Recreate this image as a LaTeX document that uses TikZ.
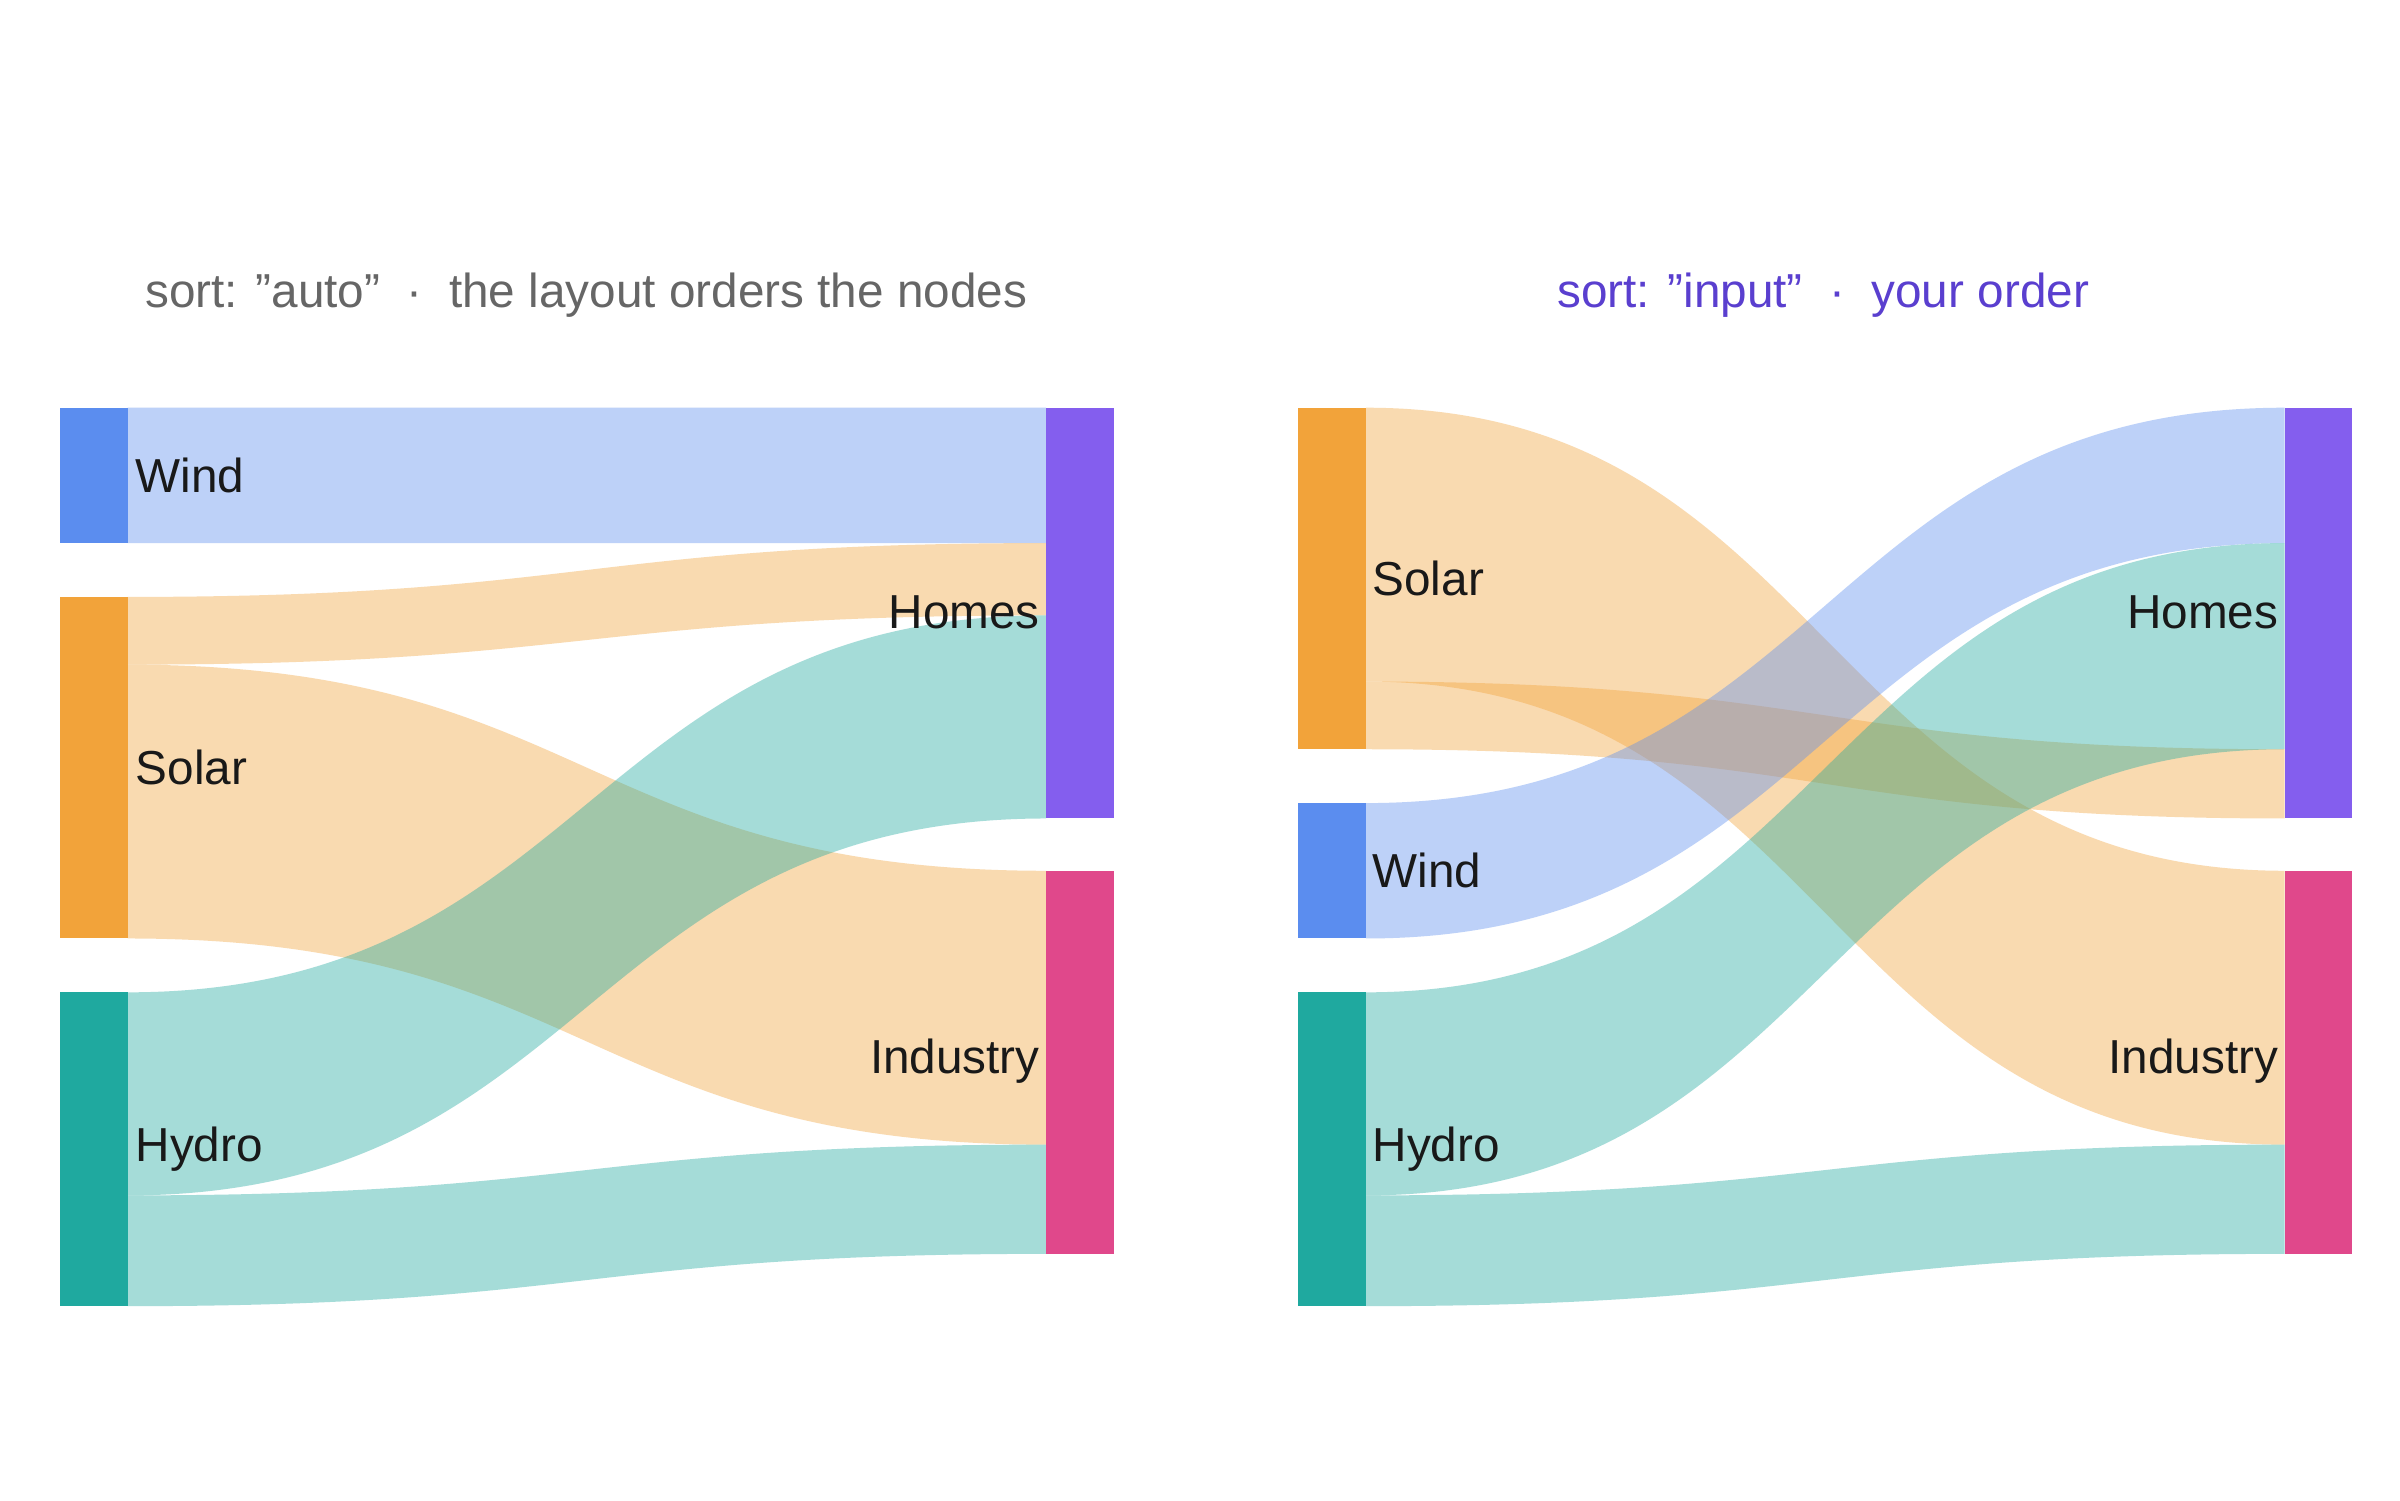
\documentclass[tikz,border=0pt]{standalone}
\usepackage{fontspec}
\setmainfont{Liberation Sans}
\begin{document}
\definecolor{wind}{HTML}{5B8DEF}
\definecolor{solar}{HTML}{F2A33A}
\definecolor{hydro}{HTML}{1FA99F}
\definecolor{homes}{HTML}{845EEE}
\definecolor{industry}{HTML}{E0488B}
\definecolor{tgray}{HTML}{666666}
\definecolor{tpurple}{HTML}{5A3FCF}
\newcommand{\myband}[7]{%
 \fill[#7,opacity=0.4] (#1,#2) .. controls ({(#1+#4)/2},#2) and ({(#1+#4)/2},#5) .. (#4,#5)
  -- (#4,#6) .. controls ({(#1+#4)/2},#6) and ({(#1+#4)/2},#3) .. (#1,#3) -- cycle;}
\begin{tikzpicture}[x=1pt,y=-1pt,
  nd/.style={draw=none,inner sep=0pt,minimum width=44pt},
  lab/.style={font=\fontsize{31}{37}\selectfont,text=black!90,inner sep=0pt},
  ttl/.style={font=\fontsize{31}{37}\selectfont,inner sep=0pt}]
\fill[white] (0,0) rectangle (1560,975);
\node[ttl,text=tgray] (t1) at (381,192) {sort: "auto"\ \ ·\ \ the layout orders the nodes};
\node[ttl,text=tpurple] (t2) at (1185,192) {sort: "input"\ \ ·\ \ your order};
% left bands
\myband{83}{265}{353}{680}{265}{353}{wind}
\myband{83}{388}{432}{680}{353}{400}{solar}
\myband{83}{432}{610}{680}{566}{744}{solar}
\myband{83}{645}{777}{680}{400}{532}{hydro}
\myband{83}{777}{849}{680}{744}{815}{hydro}
% left nodes
\fill[wind] (39,265) rectangle (83,353) coordinate (lw);
\fill[solar] (39,388) rectangle (83,610);
\fill[hydro] (39,645) rectangle (83,849);
\fill[homes] (680,265) rectangle (724,532);
\fill[industry] (680,566) rectangle (724,815);
\node[lab,anchor=west] (lwl) at (88,309) {Wind};
\node[lab,anchor=west] (lsl) at (88,499) {Solar};
\node[lab,anchor=west] (lhl) at (88,747) {Hydro};
\node[lab,anchor=east] (lhol) at (676,398) {Homes};
\node[lab,anchor=east] (lil) at (676,690) {Industry};
% right bands
\myband{888}{265}{443}{1485}{566}{744}{solar}
\myband{888}{443}{487}{1485}{487}{532}{solar}
\myband{888}{522}{610}{1485}{265}{353}{wind}
\myband{888}{645}{777}{1485}{353}{487}{hydro}
\myband{888}{777}{849}{1485}{744}{815}{hydro}
% right nodes
\fill[solar] (844,265) rectangle (888,487);
\fill[wind] (844,522) rectangle (888,610);
\fill[hydro] (844,645) rectangle (888,849);
\fill[homes] (1485,265) rectangle (1529,532);
\fill[industry] (1485,566) rectangle (1529,815);
\node[lab,anchor=west] (rsl) at (892,376) {Solar};
\node[lab,anchor=west] (rwl) at (892,566) {Wind};
\node[lab,anchor=west] (rhl) at (892,747) {Hydro};
\node[lab,anchor=east] (rhol) at (1481,398) {Homes};
\node[lab,anchor=east] (ril) at (1481,690) {Industry};
\end{tikzpicture}
\end{document}
